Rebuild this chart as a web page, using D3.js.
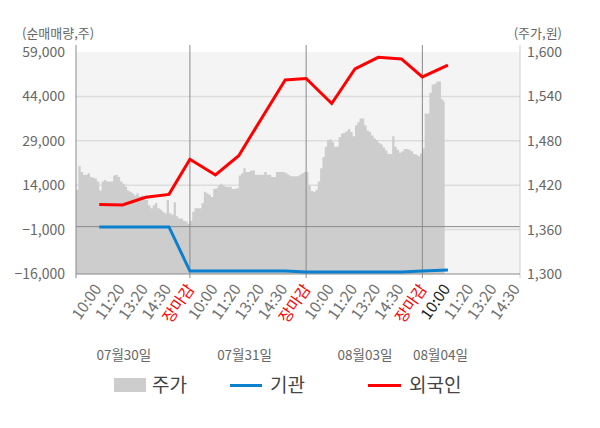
<!DOCTYPE html>
<html>
<head>
<meta charset="utf-8">
<script src="https://cdn.jsdelivr.net/npm/d3@7"></script>
<style>
  html, body { margin: 0; padding: 0; background: #fff; }
  svg { display: block; font-family: "Noto Sans CJK KR", "Noto Sans", sans-serif; }
</style>
</head>
<body>
<svg id="chart" width="600" height="428"></svg>
<script>
// ---------------- data ----------------
const dayLabels = ["07월30일", "07월31일", "08월03일", "08월04일"];
const dayLabelSlot = [2.06, 7.25, 12.43, 15.68];
const timeLabels = ["10:00", "11:20", "13:20", "14:30", "장마감"];
// slot (x-domain) of each time inside a day
const timeSlot = [1, 2, 3, 4, 4.9];
const labelSlot = [1, 2, 3, 4, 5];
const leftTicks = [-16000, -1000, 14000, 29000, 44000, 59000];
const rightTicks = [1300, 1360, 1420, 1480, 1540, 1600];

// 외국인 net buying (shares), sampled at the labelled times
const foreign = [7500, 7350, 9900, 10900, 22750,
                 17450, 23950, 36800, 49550, 50050,
                 41600, 53250, 57200, 56650, 50600,
                 54600];
// 기관 net buying (shares)
const inst = [-100, -100, -100, -100, -15000,
              -15000, -15000, -15000, -15000, -15300,
              -15300, -15300, -15300, -15350, -14950,
              -14650];
// 주가 (won), one value every 0.1 slot within each day
const price1 = [1414,1446,1438,1434,1434,1436,1431,1430,1429,1425,
                1413,1425,1427,1425,1425,1425,1433,1434,1431,1425,
                1422,1418,1413,1411,1409,1406,1409,1405,1406,1404,
                1400,1393,1389,1393,1396,1389,1387,1384,1382,1400,
                1382,1380,1397,1378,1375,1375,1372,1371,1368,1372];
const price2 = [1384,1389,1389,1389,1396,1411,1409,1407,1404,1415,
                1416,1420,1422,1420,1418,1418,1418,1415,1415,1416,
                1433,1436,1443,1438,1438,1440,1440,1434,1434,1434,
                1434,1438,1434,1434,1431,1431,1438,1438,1438,1438,
                1436,1434,1432,1432,1432,1432,1434,1436,1438,1438];
const price3 = [1420,1412,1411,1414,1425,1443,1458,1472,1481,1482,
                1478,1472,1472,1485,1490,1491,1493,1496,1492,1486,
                1501,1505,1510,1510,1501,1494,1492,1487,1483,1481,
                1477,1475,1471,1467,1462,1462,1486,1472,1468,1464,
                1466,1469,1469,1468,1466,1462,1461,1459,1463,1470];
const price4 = [1517,1517,1545,1556,1557,1560,1560,1536,1533];
const priceDays = [price1, price2, price3, price4];

// ---------------- build tables ----------------
const SLOTS_PER_DAY = 5;
const flowPts = foreign.map((f, i) => {
  const d = Math.floor(i / 5), t = i % 5;
  return { s: d * SLOTS_PER_DAY + timeSlot[t], f: f, inst: inst[i] };
});
const pricePts = [];
priceDays.forEach((arr, d) => arr.forEach((p, k) => pricePts.push({ s: d * SLOTS_PER_DAY + k * 0.1, p: p })));
pricePts.push({ s: 15.86, p: price4[price4.length - 1] });

const tickItems = [];
for (let d = 0; d < 4; d++) {
  const n = d === 3 ? 4 : 5;
  for (let t = 0; t < n; t++) {
    tickItems.push({ s: d * SLOTS_PER_DAY + labelSlot[t], label: timeLabels[t], close: t === 4, cur: d === 3 && t === 0 });
  }
}

// ---------------- scales ----------------
const L = 76, R = 520, T = 52, B = 274;
const x = d3.scaleLinear().domain([0, 19.1]).range([L, R]);
const yL = d3.scaleLinear().domain([-16000, 59000]).range([B, T]);
const yR = d3.scaleLinear().domain([1300, 1600]).range([B, T]);

const svg = d3.select("#chart");

// background
svg.append("rect").attr("x", L).attr("y", T).attr("width", R - L).attr("height", B - T).attr("fill", "#f4f4f4");

// grid
svg.append("g").selectAll("line").data(leftTicks.slice(1, -1)).join("line")
  .attr("x1", L).attr("x2", R).attr("y1", d => yL(d)).attr("y2", d => yL(d))
  .attr("stroke", "#dcdcdc").attr("stroke-width", 1.5);

// price area
svg.append("path").datum(pricePts)
  .attr("fill", "#cdcdcd")
  .attr("d", d3.area().curve(d3.curveStepAfter).x(d => x(d.s)).y0(B).y1(d => yR(d.p)));

// zero line
svg.append("line").attr("x1", L).attr("x2", R).attr("y1", yL(0)).attr("y2", yL(0))
  .attr("stroke", "#8a8a8a").attr("stroke-width", 1);

// day separators
const sepSlots = [0, 1, 2].map(d => d * SLOTS_PER_DAY + timeSlot[4]);
svg.append("g").selectAll("line").data(sepSlots).join("line")
  .attr("x1", d => x(d)).attr("x2", d => x(d)).attr("y1", 45).attr("y2", 278)
  .attr("stroke", "#8a8a8a").attr("stroke-width", 1);

// axes lines
svg.append("line").attr("x1", L).attr("x2", L).attr("y1", 45).attr("y2", 278).attr("stroke", "#8a8a8a");
svg.append("line").attr("x1", R).attr("x2", R).attr("y1", 45).attr("y2", 278).attr("stroke", "#cfcfcf");
svg.append("line").attr("x1", L).attr("x2", R).attr("y1", B).attr("y2", B).attr("stroke", "#8a8a8a");

// lines
svg.append("path").datum(flowPts)
  .attr("fill", "none").attr("stroke", "#0a80cf").attr("stroke-width", 3)
  .attr("d", d3.line().x(d => x(d.s)).y(d => yL(d.inst)));
svg.append("path").datum(flowPts)
  .attr("fill", "none").attr("stroke", "#ff0000").attr("stroke-width", 3)
  .attr("d", d3.line().x(d => x(d.s)).y(d => yL(d.f)));

// left axis labels
const fmt = d3.format(",");
svg.append("g").selectAll("text").data(leftTicks).join("text")
  .attr("x", 65).attr("y", d => yL(d)).attr("dy", "0.36em")
  .attr("text-anchor", "end").attr("font-size", 14).attr("fill", "#666")
  .text(d => fmt(d));
// right axis labels
svg.append("g").selectAll("text").data(rightTicks).join("text")
  .attr("x", 527).attr("y", d => yR(d)).attr("dy", "0.36em")
  .attr("text-anchor", "start").attr("font-size", 14).attr("fill", "#666")
  .text(d => fmt(d));

// unit labels
svg.append("text").attr("x", 22).attr("y", 38).attr("font-size", 13).attr("fill", "#666").text("(순매매량,주)");
svg.append("text").attr("x", 562).attr("y", 38).attr("text-anchor", "end").attr("font-size", 13).attr("fill", "#666").text("(주가,원)");

// x tick labels (rotated)
svg.append("g").selectAll("text").data(tickItems).join("text")
  .attr("transform", d => `translate(${x(d.s) + 3},${289}) rotate(-55)`)
  .attr("text-anchor", "end").attr("font-size", 15.5)
  .attr("fill", d => d.close ? "#ff0000" : (d.cur ? "#222" : "#707070"))
  .text(d => d.label);

// date labels
svg.append("g").selectAll("text").data(dayLabels).join("text")
  .attr("x", (d, i) => x(dayLabelSlot[i])).attr("y", 360)
  .attr("text-anchor", "middle").attr("font-size", 13.5).attr("fill", "#666")
  .text(d => d);

// legend
const lg = svg.append("g");
lg.append("rect").attr("x", 114).attr("y", 378).attr("width", 32).attr("height", 14).attr("fill", "#cdcdcd");
lg.append("text").attr("x", 152).attr("y", 392).attr("font-size", 19).attr("fill", "#444").text("주가");
lg.append("line").attr("x1", 230).attr("x2", 262).attr("y1", 385.5).attr("y2", 385.5).attr("stroke", "#0a80cf").attr("stroke-width", 3);
lg.append("text").attr("x", 270).attr("y", 392).attr("font-size", 19).attr("fill", "#444").text("기관");
lg.append("line").attr("x1", 368).attr("x2", 401).attr("y1", 385.5).attr("y2", 385.5).attr("stroke", "#ff0000").attr("stroke-width", 3);
lg.append("text").attr("x", 409).attr("y", 392).attr("font-size", 19).attr("fill", "#444").text("외국인");
</script>
</body>
</html>
